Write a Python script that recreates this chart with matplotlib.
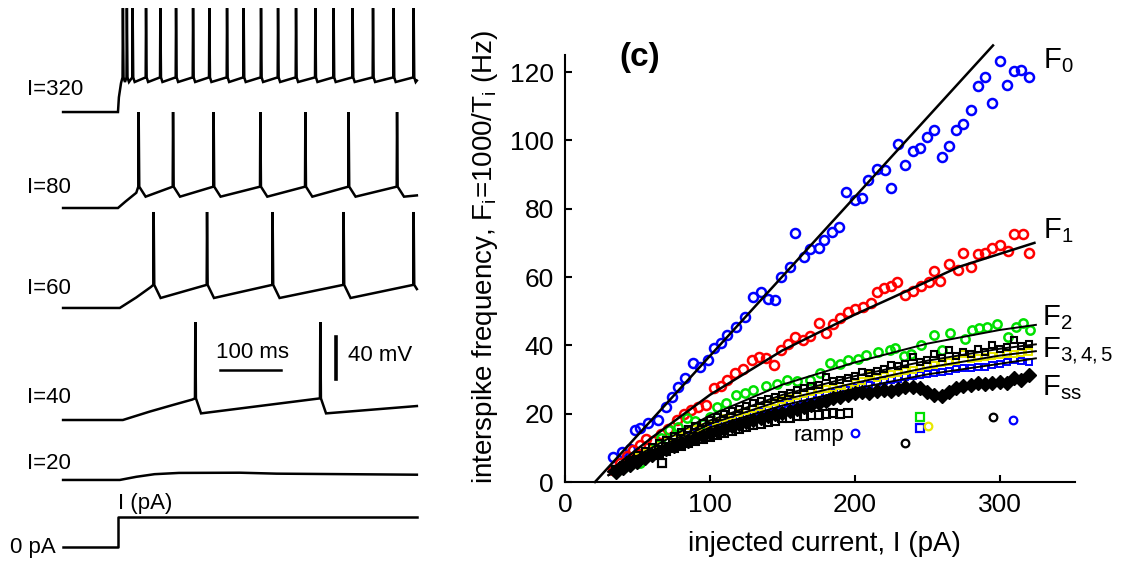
import matplotlib
matplotlib.use('Agg')
import matplotlib.pyplot as plt

plt.rcParams['font.family'] = ['Liberation Sans', 'DejaVu Sans']
plt.rcParams['mathtext.fontset'] = 'custom'
plt.rcParams['mathtext.rm'] = 'Liberation Sans'
plt.rcParams['mathtext.it'] = 'Liberation Sans'
plt.rcParams['mathtext.bf'] = 'Liberation Sans:bold'

# ── left panel data: voltage traces (time in ms, voltage in mV above rest) ────

T_START, T_END = -90, 490

TRACE_LABELS = ['I=320', 'I=80', 'I=60', 'I=40']
SPIKE_TIMES = [
    [7.5, 14.0, 23.4, 45.4, 68.9, 94.6, 122.5, 149.2, 178.2, 205.4, 233.9,
     261.8, 291.3, 323.0, 352.9, 384.1, 417.5, 451.3, 484.1],
    [33.3, 89.7, 156.2, 232.8, 306.6, 377.5, 456.9],
    [57.9, 145.4, 252.9, 369.3, 484.1],
    [126.2, 331.1],
]
ONSET_T = [[T_START, 0, 1.5, 5],
           [T_START, 0, 12, 30],
           [T_START, 3, 30, 54],
           [T_START, 8, 52, 90, 122]]
ONSET_V = [[0, 0, 14, 27.6],
           [0, 0, 6, 14.5],
           [0, 0, 10, 20],
           [0, 0, 8, 14.3, 19.5]]
PRE_SPIKE = [33, 20.3, 22, 20.6]
PEAK = [99, 91.4, 91.4, 93.3]
TROUGH = [28.6, 10.8, 9.5, 6.3]
TROUGH_DELAY = [4, 12, 12, 10]
END_V = [30, 12, 18, 13.3]

SUB_T = [T_START, 3, 30, 60, 100, 200, 260, T_END]    # I=20, no spikes
SUB_V = [0, 0, 3, 5.5, 6.7, 6.9, 6.0, 5.0]
STEP_T = [T_START, 0, 0, T_END]                          # current command
STEP_V = [0, 0, 28.6, 28.6]

# trace baselines in the drawing (layout)
REST = [433.3, 341.9, 246.7, 140.0]
REST_SUB = 82.9
REST_STEP = 19.0
LABEL_V = [454.3, 361.0, 265.7, 161.0]

# ── right panel data: interspike frequency vs injected current ───────────────

F0_I = [33, 39, 45, 48, 52, 57, 64, 70, 74, 78, 83, 88, 93, 99, 103, 108, 112,
        118, 124, 130, 135, 140, 145, 149, 155, 159, 165, 169, 175, 179, 184,
        189, 194, 200, 205, 209, 215, 221, 225, 230, 235, 240, 245, 250, 255,
        260, 265, 270, 275, 280, 285, 290, 295, 300, 305, 310, 315, 320]
F0_F = [7.4, 8.9, 9.8, 15.2, 15.7, 17.2, 18.1, 22.0, 24.9, 27.9, 30.3, 34.7,
        33.7, 35.7, 39.1, 40.6, 43.0, 45.4, 48.3, 54.2, 55.6, 53.7, 53.4, 60.0,
        62.8, 72.9, 65.9, 68.3, 68.6, 70.8, 73.2, 74.6, 84.9, 82.5, 83.1, 88.3,
        91.7, 91.4, 86.1, 98.8, 92.7, 96.8, 97.7, 101.0, 102.9, 95.1, 98.5,
        102.9, 104.9, 108.8, 115.9, 118.7, 110.9, 123.1, 116.1, 120.2, 120.7,
        118.7]

F1_I = [33, 38, 43, 47, 52, 56, 61, 66, 71, 77, 82, 87, 92, 97, 103, 108, 112,
        117, 123, 129, 134, 139, 144, 149, 154, 159, 164, 169, 175, 180, 185,
        190, 195, 200, 206, 211, 215, 220, 225, 229, 235, 240, 246, 251, 255,
        259, 265, 271, 275, 280, 285, 290, 295, 300, 306, 310, 316, 320]
F1_F = [3.5, 5.5, 7.5, 9.5, 10.8, 12.5, 12.0, 14.0, 15.5, 18.2, 20.0, 21.2,
        22.0, 22.5, 27.4, 28.0, 30.0, 31.8, 33.0, 35.7, 36.5, 36.2, 34.2, 38.6,
        40.4, 42.5, 41.5, 42.8, 46.5, 43.7, 46.2, 47.9, 49.8, 50.5, 51.3, 52.3,
        55.6, 56.9, 57.5, 58.6, 54.7, 55.9, 57.3, 58.6, 61.7, 58.8, 63.7, 62.0,
        67.0, 63.0, 66.6, 67.0, 68.5, 69.3, 67.5, 72.7, 72.7, 66.9]

F2_I = [35, 40, 45, 52, 57, 62, 66, 72, 78, 84, 90, 95, 100, 105, 111, 118,
        124, 130, 139, 146, 153, 160, 169, 176, 183, 190, 195, 202, 208, 216,
        224, 228, 234, 239, 246, 255, 260, 266, 276, 281, 286, 291, 298, 306,
        311, 316, 321]
F2_F = [3, 4, 5, 5.6, 8, 10, 12.8, 15.2, 16, 18.6, 18, 17, 19, 22, 23, 25.4,
        26, 26.9, 28.1, 28.8, 29.8, 29.5, 30, 32, 34.7, 34.5, 35.7, 36, 37.1,
        38.1, 38.6, 39.1, 37, 37.4, 40, 43, 38.6, 43.5, 42, 44.4, 45, 45.4,
        46.2, 42.5, 45.5, 46.5, 44.4]

I_GRID = [35, 40, 45, 50, 55, 60, 65, 70, 75, 80,
          85, 90, 95, 100, 105, 110, 115, 120, 125, 130,
          135, 140, 145, 150, 155, 160, 165, 170, 175, 180,
          185, 190, 195, 200, 205, 210, 215, 220, 225, 230,
          235, 240, 245, 250, 255, 260, 265, 270, 275, 280,
          285, 290, 295, 300, 305, 310, 315, 320]
F3_F = [3.5, 5.0, 6.5, 7.8, 9.0, 10.2, 11.3, 12.4, 13.5, 14.5,
        15.5, 16.5, 17.4, 18.2, 19.1, 19.9, 20.7, 21.5, 22.2, 23.0,
        23.6, 24.3, 25.0, 25.6, 26.2, 26.8, 27.4, 28.0, 28.5, 30.8,
        29.5, 30.0, 30.5, 31.0, 32.3, 32.0, 32.5, 33.0, 34.2, 34.0,
        34.4, 36.5, 35.2, 35.6, 37.5, 36.3, 38.5, 37.0, 38.2, 37.6,
        39.0, 38.2, 40.0, 38.8, 39.5, 41.5, 39.8, 40.3]
F4_F = [3.0, 4.5, 6.0, 7.2, 8.4, 9.5, 10.6, 11.6, 12.6, 13.6,
        14.5, 15.4, 16.2, 17.0, 17.8, 18.6, 19.4, 20.1, 20.8, 21.5,
        22.1, 22.8, 23.4, 24.0, 24.5, 25.1, 25.7, 26.3, 26.9, 27.2,
        27.6, 28.2, 27.4, 29.0, 29.5, 31.3, 30.4, 31.0, 31.5, 32.0,
        32.4, 32.9, 33.3, 34.0, 34.3, 34.7, 35.1, 35.4, 37.6, 36.0,
        36.4, 36.7, 37.0, 37.2, 37.5, 37.6, 37.9, 38.1]
F5_F = [3.0, 4.0, 5.2, 6.4, 7.5, 8.6, 9.6, 10.6, 11.6, 12.5,
        13.4, 14.3, 15.1, 15.9, 16.6, 17.3, 18.0, 18.7, 19.4, 20.0,
        20.6, 21.2, 21.8, 22.4, 23.0, 23.5, 24.0, 24.6, 25.1, 25.6,
        26.2, 26.9, 27.0, 27.5, 28.0, 28.4, 29.3, 29.6, 29.8, 30.2,
        30.6, 31.0, 31.3, 31.7, 32.0, 32.3, 32.6, 33.2, 33.4, 33.5,
        33.7, 33.7, 34.2, 34.5, 35.0, 35.7, 35.3, 35.2]
FSS_F = [3.0, 4.0, 5.0, 6.0, 7.0, 8.0, 8.8, 9.6, 10.5, 11.3,
         12.0, 12.8, 13.5, 14.2, 15.0, 15.6, 16.3, 17.0, 17.5, 18.2,
         18.8, 19.3, 19.8, 20.3, 20.8, 21.5, 22.0, 22.6, 23.2, 23.8,
         24.5, 25.0, 25.6, 26.0, 26.3, 26.2, 26.6, 27.0, 26.5, 27.2,
         27.8, 27.9, 27.4, 26.4, 25.4, 25.2, 26.4, 27.5, 28.0, 28.3,
         28.9, 28.6, 29.0, 29.3, 29.1, 30.5, 29.9, 31.2]

RAMP_I = [35, 40, 45, 50, 55, 60, 65, 70, 75, 80, 85, 90, 95, 100, 105, 110,
          115, 120, 125, 130, 135, 140, 145, 150, 155, 160, 165, 170, 175, 180,
          185, 190, 195]
RAMP_F = [3.5, 4.5, 5.5, 6.5, 7.2, 8.0, 8.6, 9.2, 10.0, 10.6, 11.3, 12.0, 12.5,
          13.2, 13.8, 14.4, 15.0, 15.6, 16.1, 16.7, 17.1, 17.6, 18.0, 18.6,
          18.8, 19.2, 19.3, 19.6, 19.6, 19.9, 20.1, 19.8, 20.1]

OUT_I = [67, 200, 234.5, 244.8, 244.8, 250.6, 295.4, 309.2]
OUT_F = [5.5, 14.2, 11.3, 19.1, 15.7, 16.4, 19.1, 18.1]
OUT_COLOR = ['k', '#0000ff', 'k', '#00e000', '#0000ff', '#e8e800', 'k', '#0000ff']
OUT_MARKER = ['s', 'o', 'o', 's', 's', 'o', 'o', 'o']

# fitted curves
F0_FIT_I = [20.7, 295.4]
F0_FIT_F = [0, 127.8]
F1_FIT_I = [30, 60, 100, 150, 200, 226, 272, 324]
F1_FIT_F = [3, 13, 25.5, 38.5, 49, 54, 63, 70]
FIT_I = [30, 100, 150, 200, 250, 300, 325]
F2_FIT_F = [3, 19.5, 28.5, 35, 40.5, 44.5, 46]
F3_FIT_F = [2, 18, 25.5, 31, 35.5, 39, 40.3]
F4_FIT_F = [2, 17, 24, 29, 33.5, 37, 38.3]
F5_FIT_F = [2, 16, 22.4, 27.3, 31.5, 34.6, 36.2]


def build_trace(k):
    """Polyline of one spiking trace: onset, then each spike and its AHP."""
    t = list(ONSET_T[k])
    v = list(ONSET_V[k])
    for ts in SPIKE_TIMES[k]:
        for dt, lev in ((0, PRE_SPIKE[k]), (0.6, PEAK[k]),
                        (1.6, PRE_SPIKE[k]), (TROUGH_DELAY[k], TROUGH[k])):
            if ts + dt <= T_END:
                t.append(ts + dt)
                v.append(lev)
    if t[-1] < T_END:
        t.append(T_END)
        v.append(END_V[k])
    return t, [x + REST[k] for x in v]


fig = plt.figure(figsize=(11.22, 5.67), dpi=100)

# ── left panel ────────────────────────────────────────────────────────────────
ax_l = fig.add_axes([0, 0, 460 / 1122, 1])
ax_l.set_xlim(-193.4, 560.7)
ax_l.set_ylim(0, 540)
ax_l.axis('off')

LW = 1.8
FS_L = 16
for k, label in enumerate(TRACE_LABELS):
    t, v = build_trace(k)
    ax_l.plot(t, v, color='k', lw=LW, solid_joinstyle='miter')
    ax_l.text(-149, LABEL_V[k], label, fontsize=FS_L, ha='left', va='center')

ax_l.plot(SUB_T, [x + REST_SUB for x in SUB_V], color='k', lw=LW)
ax_l.text(-149, 99, 'I=20', fontsize=FS_L, ha='left', va='center')
ax_l.plot(STEP_T, [x + REST_STEP for x in STEP_V], color='k', lw=LW)
ax_l.text(-177, 19, '0 pA', fontsize=FS_L, ha='left', va='center')
ax_l.text(0, 60, 'I (pA)', fontsize=FS_L, ha='left', va='center')

# scale bars
ax_l.plot([167, 267], [187.6, 187.6], color='k', lw=LW)
ax_l.text(221, 204, '100 ms', fontsize=FS_L, ha='center', va='center')
ax_l.plot([357.4, 357.4], [179, 219], color='k', lw=2.6)
ax_l.text(377, 201, '40 mV', fontsize=FS_L, ha='left', va='center')

# ── right panel ───────────────────────────────────────────────────────────────
ax = fig.add_axes([565 / 1122, 1 - 482 / 567, 510 / 1122, 427 / 567])
ax.set_xlim(0, 352)
ax.set_ylim(0, 125)

open_mk = dict(ls='none', mfc='none')
ax.plot(F0_I, F0_F, marker='o', mec='#0000ff', ms=6.5, mew=1.8, **open_mk)
ax.plot(F1_I, F1_F, marker='o', mec='#ff0000', ms=6.5, mew=1.8, **open_mk)
ax.plot(F2_I, F2_F, marker='o', mec='#00e000', ms=6.0, mew=1.8, **open_mk)
ax.plot(I_GRID, F5_F, marker='s', mec='#0000ff', ms=4.5, mew=1.4, **open_mk)
ax.plot(I_GRID, F4_F, marker='s', mec='#e8e800', ms=4.5, mew=1.4, **open_mk)
ax.plot(I_GRID, F3_F, marker='s', mec='k', ms=4.8, mew=1.5, **open_mk)
ax.plot(RAMP_I, RAMP_F, marker='s', mec='k', ms=5.2, mew=1.5, **open_mk)
ax.plot(I_GRID, FSS_F, marker='D', color='k', ms=7, ls='none')
for xi, yi, c, m in zip(OUT_I, OUT_F, OUT_COLOR, OUT_MARKER):
    ax.plot(xi, yi, marker=m, mec=c, ms=5.5, mew=1.6, **open_mk)

ax.plot(F0_FIT_I, F0_FIT_F, color='k', lw=1.8, clip_on=False)
ax.plot(F1_FIT_I, F1_FIT_F, color='k', lw=1.8)
for fit in (F2_FIT_F, F3_FIT_F, F4_FIT_F, F5_FIT_F):
    ax.plot(FIT_I, fit, color='k', lw=1.4)

ax.text(330, 123.3, r'F$_0$', fontsize=21, va='center', ha='left')
ax.text(330, 73.6, r'F$_1$', fontsize=21, va='center', ha='left')
ax.text(329, 48.2, r'F$_2$', fontsize=21, va='center', ha='left')
ax.text(329, 38.3, r'F$_{3,4,5}$', fontsize=21, va='center', ha='left')
ax.text(329, 27.5, r'F$_{ss}$', fontsize=21, va='center', ha='left')
ax.text(175, 13.5, 'ramp', fontsize=16, va='center', ha='center')
fig.text(0.570, 0.898, '(c)', fontsize=24, fontweight='bold',
         ha='center', va='center')

for side in ('top', 'right'):
    ax.spines[side].set_visible(False)
for side in ('left', 'bottom'):
    ax.spines[side].set_linewidth(1.5)
ax.set_xticks([0, 100, 200, 300])
ax.set_yticks([0, 20, 40, 60, 80, 100, 120])
ax.tick_params(direction='in', length=5, width=1.5, labelsize=19, pad=8)
ax.set_xlabel('injected current, I (pA)', fontsize=20)
ax.set_ylabel(r'interspike frequency, F$_\mathrm{i}$=1000/T$_\mathrm{i}$ (Hz)',
              fontsize=20)
ax.xaxis.set_label_coords(0.508, -0.115)
ax.yaxis.set_label_coords(-0.128, 0.527)

fig.savefig('out.png', dpi=100, facecolor='white')
